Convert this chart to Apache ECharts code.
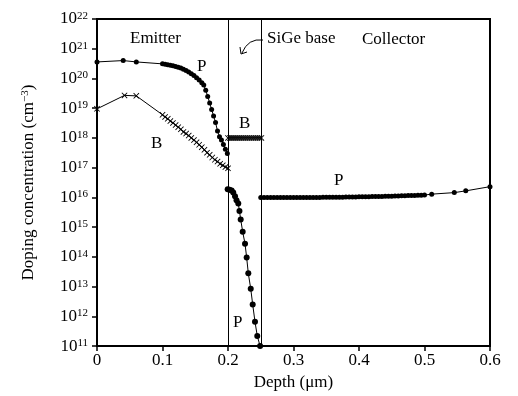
<!DOCTYPE html>
<html>
<head>
<meta charset="utf-8">
<script src="https://cdn.jsdelivr.net/npm/echarts@6/dist/echarts.min.js"></script>
<style>
html,body{margin:0;padding:0;background:#fff;}
#chart_container{width:518px;height:396px;}
</style>
</head>
<body>
<div id="chart_container"></div>
<script>
// depth (um), concentration (cm^-3)
var emitterP = [
  [0,3.6e20],[0.04,4.0e20],[0.06,3.6e20],[0.100,3.1e20],[0.104,3.0e20],[0.108,2.9e20],
  [0.112,2.8e20],[0.116,2.7e20],[0.120,2.55e20],[0.124,2.4e20],[0.128,2.25e20],[0.132,2.05e20],
  [0.136,1.85e20],[0.140,1.65e20],[0.144,1.45e20],[0.148,1.25e20],[0.152,1.05e20],[0.156,8.8e19],
  [0.160,7.2e19],[0.163,6.0e19],[0.166,4.0e19],[0.169,2.5e19],[0.172,1.5e19],[0.175,9e18],
  [0.178,5.5e18],[0.181,3.3e18],[0.184,1.7e18],[0.187,1.1e18],[0.190,8.5e17],[0.193,6e17],
  [0.196,4.2e17],[0.199,3e17]
];
var emitterB = [
  [0,9.5e18],[0.042,2.7e19],[0.06,2.6e19],[0.100,6.0e18],[0.104,5.1e18],[0.108,4.4e18],
  [0.112,3.7e18],[0.116,3.2e18],[0.120,2.7e18],[0.124,2.3e18],[0.128,1.95e18],[0.132,1.6e18],
  [0.136,1.4e18],[0.140,1.2e18],[0.144,1.0e18],[0.148,8.5e17],[0.152,7.1e17],[0.156,5.9e17],
  [0.160,4.9e17],[0.164,4.0e17],[0.168,3.2e17],[0.172,2.7e17],[0.176,2.2e17],[0.180,1.85e17],
  [0.184,1.6e17],[0.188,1.35e17],[0.192,1.2e17],[0.196,1.05e17],[0.200,9.5e16]
];
var baseB = [
  [0.200,1e18],[0.203,1e18],[0.206,1e18],[0.209,1e18],[0.212,1e18],[0.215,1e18],
  [0.218,1e18],[0.221,1e18],[0.224,1e18],[0.227,1e18],[0.230,1e18],[0.233,1e18],
  [0.236,1e18],[0.239,1e18],[0.242,1e18],[0.245,1e18],[0.248,1e18],[0.251,1e18]
];
var baseP = [
  [0.1995,1.9e16],[0.2025,1.8e16],[0.2056,1.7e16],[0.208,1.45e16],[0.2107,1.1e16],[0.213,8e15],
  [0.2157,6.2e15],[0.2175,3.5e15],[0.2194,1.8e15],[0.2224,7e14],[0.226,2.75e14],[0.2285,9.5e13],
  [0.231,2.8e13],[0.2347,8.5e12],[0.2377,2.5e12],[0.2412,6.6e11],[0.2447,2.2e11],[0.249,1.0e11]
];
var collectorP = [
  [0.250,1.00e16],[0.255,1.00e16],[0.260,1.00e16],[0.265,1.00e16],[0.270,1.00e16],[0.275,1.00e16],
  [0.280,1.00e16],[0.285,1.00e16],[0.290,1.00e16],[0.295,1.00e16],[0.300,1.00e16],[0.305,1.00e16],
  [0.310,1.00e16],[0.315,1.00e16],[0.320,1.00e16],[0.325,1.00e16],[0.330,1.00e16],[0.335,1.00e16],
  [0.340,1.00e16],[0.345,1.01e16],[0.350,1.01e16],[0.355,1.01e16],[0.360,1.01e16],[0.365,1.02e16],
  [0.370,1.02e16],[0.375,1.02e16],[0.380,1.03e16],[0.385,1.03e16],[0.390,1.04e16],[0.395,1.04e16],
  [0.400,1.05e16],[0.405,1.05e16],[0.410,1.06e16],[0.415,1.06e16],[0.420,1.07e16],[0.425,1.07e16],
  [0.430,1.08e16],[0.435,1.08e16],[0.440,1.09e16],[0.445,1.09e16],[0.450,1.10e16],[0.455,1.11e16],
  [0.460,1.12e16],[0.465,1.13e16],[0.470,1.14e16],[0.475,1.15e16],[0.480,1.16e16],[0.485,1.17e16],
  [0.490,1.18e16],[0.495,1.19e16],[0.500,1.20e16],[0.511,1.29e16],[0.5455,1.45e16],[0.563,1.66e16],
  [0.600,2.3e16]
];
var regionEdges = [0.2, 0.25];

var FONT = '"Liberation Serif", "Times New Roman", serif';
var crossSymbol = 'path://M0,1L1,0L5,4L9,0L10,1L6,5L10,9L9,10L5,6L1,10L0,9L4,5Z';

function lineSeries(data, symbol, size) {
  return {
    type: 'line',
    data: data,
    symbol: symbol,
    symbolSize: size,
    showAllSymbol: true,
    color: '#000',
    lineStyle: {color: '#000', width: 1},
    itemStyle: {color: '#000'},
    z: 3
  };
}

function label(text, x, y) {
  return {
    type: 'text', left: x, top: y,
    style: {text: text, font: '17px ' + FONT, fill: '#000'}
  };
}

var chart = echarts.init(document.getElementById('chart_container'));

var emitterPSeries = lineSeries(emitterP, 'circle', 5);
emitterPSeries.markLine = {
  silent: true,
  symbol: 'none',
  label: {show: false},
  lineStyle: {color: '#000', width: 1, type: 'solid'},
  data: regionEdges.map(function (v) { return {xAxis: v}; })
};

var option = {
  animation: false,
  backgroundColor: '#fff',
  grid: {left: 97, right: 28, top: 19, bottom: 44, show: true, borderColor: '#000', borderWidth: 2},
  xAxis: {
    type: 'value', min: 0, max: 0.6, interval: 0.1,
    name: 'Depth (\u03bcm)', nameLocation: 'middle', nameGap: 22,
    nameTextStyle: {fontFamily: FONT, fontSize: 17, color: '#000'},
    axisLine: {lineStyle: {color: '#000', width: 2}},
    axisTick: {inside: false, length: 5, lineStyle: {color: '#000', width: 1.5}},
    axisLabel: {fontFamily: FONT, fontSize: 17, color: '#000', margin: 6},
    splitLine: {show: false}
  },
  yAxis: {
    type: 'log', logBase: 10, min: 1e11, max: 1e22, interval: 1,
    name: '{a|Doping concentration (cm}{s|\u22123}{a|)}',
    nameLocation: 'middle', nameGap: 60, nameRotate: 90,
    nameTextStyle: {
      rich: {
        a: {fontFamily: FONT, fontSize: 17, color: '#000', lineHeight: 17, verticalAlign: 'bottom'},
        s: {fontFamily: FONT, fontSize: 11, color: '#000', lineHeight: 11, verticalAlign: 'top'}
      }
    },
    axisLine: {lineStyle: {color: '#000', width: 2}},
    axisTick: {inside: false, length: 5, lineStyle: {color: '#000', width: 1.5}},
    axisLabel: {
      margin: 9,
      formatter: function (v) {
        return '{b|10}{s|' + Math.round(Math.log10(v)) + '}';
      },
      rich: {
        b: {fontFamily: FONT, fontSize: 17, color: '#000', lineHeight: 17, verticalAlign: 'bottom'},
        s: {fontFamily: FONT, fontSize: 11, color: '#000', lineHeight: 11, verticalAlign: 'top'}
      }
    },
    splitLine: {show: false}
  },
  series: [
    emitterPSeries,
    lineSeries(emitterB, crossSymbol, 6),
    lineSeries(baseB, crossSymbol, 6),
    lineSeries(baseP, 'circle', 6),
    lineSeries(collectorP, 'circle', 5)
  ],
  graphic: [
    label('Emitter', 130, 30),
    label('SiGe base', 267, 30),
    label('Collector', 362, 31),
    label('P', 197, 58),
    label('B', 151, 135),
    label('B', 239, 115),
    label('P', 334, 172),
    label('P', 233, 314),
    {
      type: 'bezierCurve',
      shape: {x1: 263, y1: 40, cpx1: 248, cpy1: 38, x2: 242, y2: 53},
      style: {stroke: '#000', lineWidth: 1, fill: null}
    },
    {
      type: 'polyline',
      shape: {points: [[240, 47], [241, 54], [247, 52]]},
      style: {stroke: '#000', lineWidth: 1, fill: null}
    }
  ]
};

chart.setOption(option);
</script>
</body>
</html>
